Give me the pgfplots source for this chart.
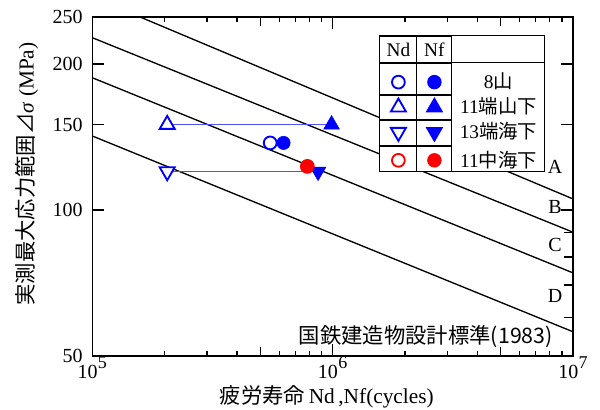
\documentclass[border=0pt]{standalone}
\usepackage{fontspec}
\setmainfont{Liberation Serif}
\newfontfamily\cjk{Noto Sans CJK JP}
\usepackage{pgfplots}
\pgfplotsset{compat=1.18}
\definecolor{lineblue}{RGB}{80,80,255}
\definecolor{mkblue}{RGB}{0,0,255}
\definecolor{mkred}{RGB}{255,0,0}
\newcommand\tenp[1]{10\kern0.02em\raisebox{0.5em}{\fontsize{13.5}{15}\selectfont #1}}
\begin{document}
\fontsize{14.5}{16}\selectfont
\begin{tikzpicture}
\path[use as bounding box] (-69.2pt,-40.5pt) rectangle (380.8pt,267pt);
\begin{axis}[
  at={(0pt,0pt)}, anchor=south west,
  scale only axis, width=360.5pt, height=254.25pt,
  xmode=log, ymode=log,
  xmin=1e5, xmax=1e7, ymin=50, ymax=250,
  axis line style={line width=1.1pt},
  every tick/.style={black, line width=1pt},
  xtick={1e5,1e6,1e7},
  xticklabels={\tenp{5},\tenp{6},\tenp{7}},
  minor xtick={2e5,3e5,4e5,6e5,7e5,8e5,9e5,2e6,3e6,4e6,6e6,7e6,8e6,9e6},
  extra x ticks={5e5,5e6}, extra x tick labels={},
  extra x tick style={major tick length=6.5pt},
  ytick={50,100,150,200,250},
  yticklabels={50,100,150,200,250},
  extra y ticks={60,70,80,90}, extra y tick labels={},
  extra y tick style={ytick pos=right, major tick length=7pt},
  major tick length=9pt, minor tick length=4pt,
  xticklabel style={inner sep=0pt, anchor=north, font=\fontsize{15}{17}\selectfont},
  yticklabel style={inner sep=0pt, anchor=east, xshift=-7pt, font=\fontsize{15}{17}\selectfont},
  xlabel={{\cjk 疲労寿命}\,Nd\,,Nf(cycles)},
  ylabel={{\cjk 実測最大応力範囲⊿}\textit{σ} (MPa)},
  xlabel style={at={(axis description cs:0.488,-0.121)}, anchor=center, font=\fontsize{16}{18}\selectfont},
  ylabel style={at={(axis description cs:-0.136,0.537)}, anchor=center, rotate=0, font=\fontsize{16}{18}\selectfont},
  clip=true,
  legend cell align=center,
  legend style={draw=black, line width=0.8pt, fill=white, inner sep=0pt,
    row sep=0pt, column sep=0pt, at={(0.9418,0.9469)}, anchor=north east,
    nodes={inner sep=0pt, text width=69pt, align=center, text depth=0.15em,
      font=\fontsize{14.5}{16}\selectfont},
    cells={anchor=center}},
]
% fatigue design lines (Japanese National Railways, 1983)
\addplot[black, line width=1pt, forget plot] coordinates {(1e5,275.0) (1e7,105.4)};
\addplot[black, line width=1pt, forget plot] coordinates {(1e5,226.6) (1e7,90.0)};
\addplot[black, line width=1pt, forget plot] coordinates {(1e5,187.4) (1e7,74.2)};
\addplot[black, line width=1pt, forget plot] coordinates {(1e5,142.1) (1e7,56.1)};
% horizontal connectors
\addplot[lineblue, line width=1pt, forget plot] coordinates {(2.05e5,150) (9.9e5,150)};
\addplot[lineblue, line width=1pt, forget plot] coordinates {(2.05e5,120) (8.7e5,120)};
% Nd (open)
\addplot[only marks, mkblue, mark=o, mark size=4.8pt, line width=1.4pt, mark options={fill=white}, forget plot] coordinates {(5.5e5,137.5)};
\addplot[only marks, mkblue, mark=triangle*, mark size=6.5pt, line width=1.4pt, mark options={fill=white}, forget plot] coordinates {(2.05e5,150)};
\addplot[only marks, mkblue, mark=triangle*, mark size=6.5pt, line width=1.4pt, mark options={fill=white, rotate=180}, forget plot] coordinates {(2.05e5,120)};
\addplot[only marks, mkred, mark=o, mark size=4.8pt, line width=1.4pt, mark options={fill=white}, forget plot] coordinates {(7.85e5,123)};
% Nf (filled)
\addplot[only marks, mkblue, mark=*, mark size=5pt, forget plot] coordinates {(6.25e5,137.5)};
\addplot[only marks, mkblue, mark=triangle*, mark size=6.8pt, forget plot] coordinates {(9.9e5,150)};
\addplot[only marks, mkblue, mark=triangle*, mark size=6.8pt, mark options={rotate=180}, forget plot] coordinates {(8.7e5,120)};
\addplot[only marks, mkred, mark=*, mark size=5pt, forget plot] coordinates {(7.85e5,123)};
% line labels
\node[font=\fontsize{15}{17}\selectfont] at (axis cs:8.43e6,122.6) {A};
\node[font=\fontsize{15}{17}\selectfont] at (axis cs:8.43e6,101.4) {B};
\node[font=\fontsize{15}{17}\selectfont] at (axis cs:8.43e6,84.7) {C};
\node[font=\fontsize{15}{17}\selectfont] at (axis cs:8.43e6,66.5) {D};
\node[font=\cjk\fontsize{16}{18}\selectfont] at (rel axis cs:0.694,0.056) {国鉄建造物設計標準(1983)};
% legend table
\addlegendimage{legend image code/.code={
  \path (0pt,-9.75pt) rectangle (54pt,9.75pt);
  \pgftext[at=\pgfpoint{13.875pt}{-0.5pt}]{\fontsize{14.5}{16}\selectfont Nd}
  \pgftext[at=\pgfpoint{40.875pt}{-0.5pt}]{\fontsize{14.5}{16}\selectfont Nf}
  \draw[overlay, black, line width=0.8pt] (27.75pt,-9.75pt) -- (27.75pt,9.75pt) (54pt,-9.75pt) -- (54pt,9.75pt) (0pt,-9.75pt) -- (123pt,-9.75pt);
}}
\addlegendentry{}
\addlegendimage{legend image code/.code={
  \path (0pt,-9pt) rectangle (54pt,14.25pt);
  \draw[overlay, black, line width=0.8pt] (27.75pt,-9pt) -- (27.75pt,14.25pt) (54pt,-9pt) -- (54pt,14.25pt);
  \draw[mkblue, mark=o, mark size=4.8pt, line width=1.4pt, mark options={fill=white}] plot coordinates {(13.875pt,0pt)};
  \draw[mkblue, mark=*, mark size=5pt] plot coordinates {(40.875pt,0pt)};
}}
\addlegendentry{8{\cjk 山}}
\addlegendimage{legend image code/.code={
  \path (0pt,-9pt) rectangle (54pt,9pt);
  \draw[overlay, black, line width=0.8pt] (27.75pt,-9pt) -- (27.75pt,9pt) (54pt,-9pt) -- (54pt,9pt);
  \draw[mkblue, mark=triangle*, mark size=6.5pt, line width=1.4pt, mark options={fill=white}] plot coordinates {(13.875pt,0pt)};
  \draw[mkblue, mark=triangle*, mark size=6.8pt] plot coordinates {(40.875pt,0pt)};
}}
\addlegendentry{11{\cjk 端山下}}
\addlegendimage{legend image code/.code={
  \path (0pt,-9.75pt) rectangle (54pt,9pt);
  \draw[overlay, black, line width=0.8pt] (27.75pt,-9.75pt) -- (27.75pt,9pt) (54pt,-9.75pt) -- (54pt,9pt);
  \draw[mkblue, mark=triangle*, mark size=6.5pt, line width=1.4pt, mark options={fill=white, rotate=180}] plot coordinates {(13.875pt,0pt)};
  \draw[mkblue, mark=triangle*, mark size=6.8pt, mark options={rotate=180}] plot coordinates {(40.875pt,0pt)};
}}
\addlegendentry{13{\cjk 端海下}}
\addlegendimage{legend image code/.code={
  \path (0pt,-8.25pt) rectangle (54pt,10.5pt);
  \draw[overlay, black, line width=0.8pt] (27.75pt,-8.25pt) -- (27.75pt,10.5pt) (54pt,-8.25pt) -- (54pt,10.5pt);
  \draw[mkred, mark=o, mark size=4.8pt, line width=1.4pt, mark options={fill=white}] plot coordinates {(13.875pt,0pt)};
  \draw[mkred, mark=*, mark size=5pt] plot coordinates {(40.875pt,0pt)};
}}
\addlegendentry{11{\cjk 中海下}}
\end{axis}
\end{tikzpicture}
\end{document}
